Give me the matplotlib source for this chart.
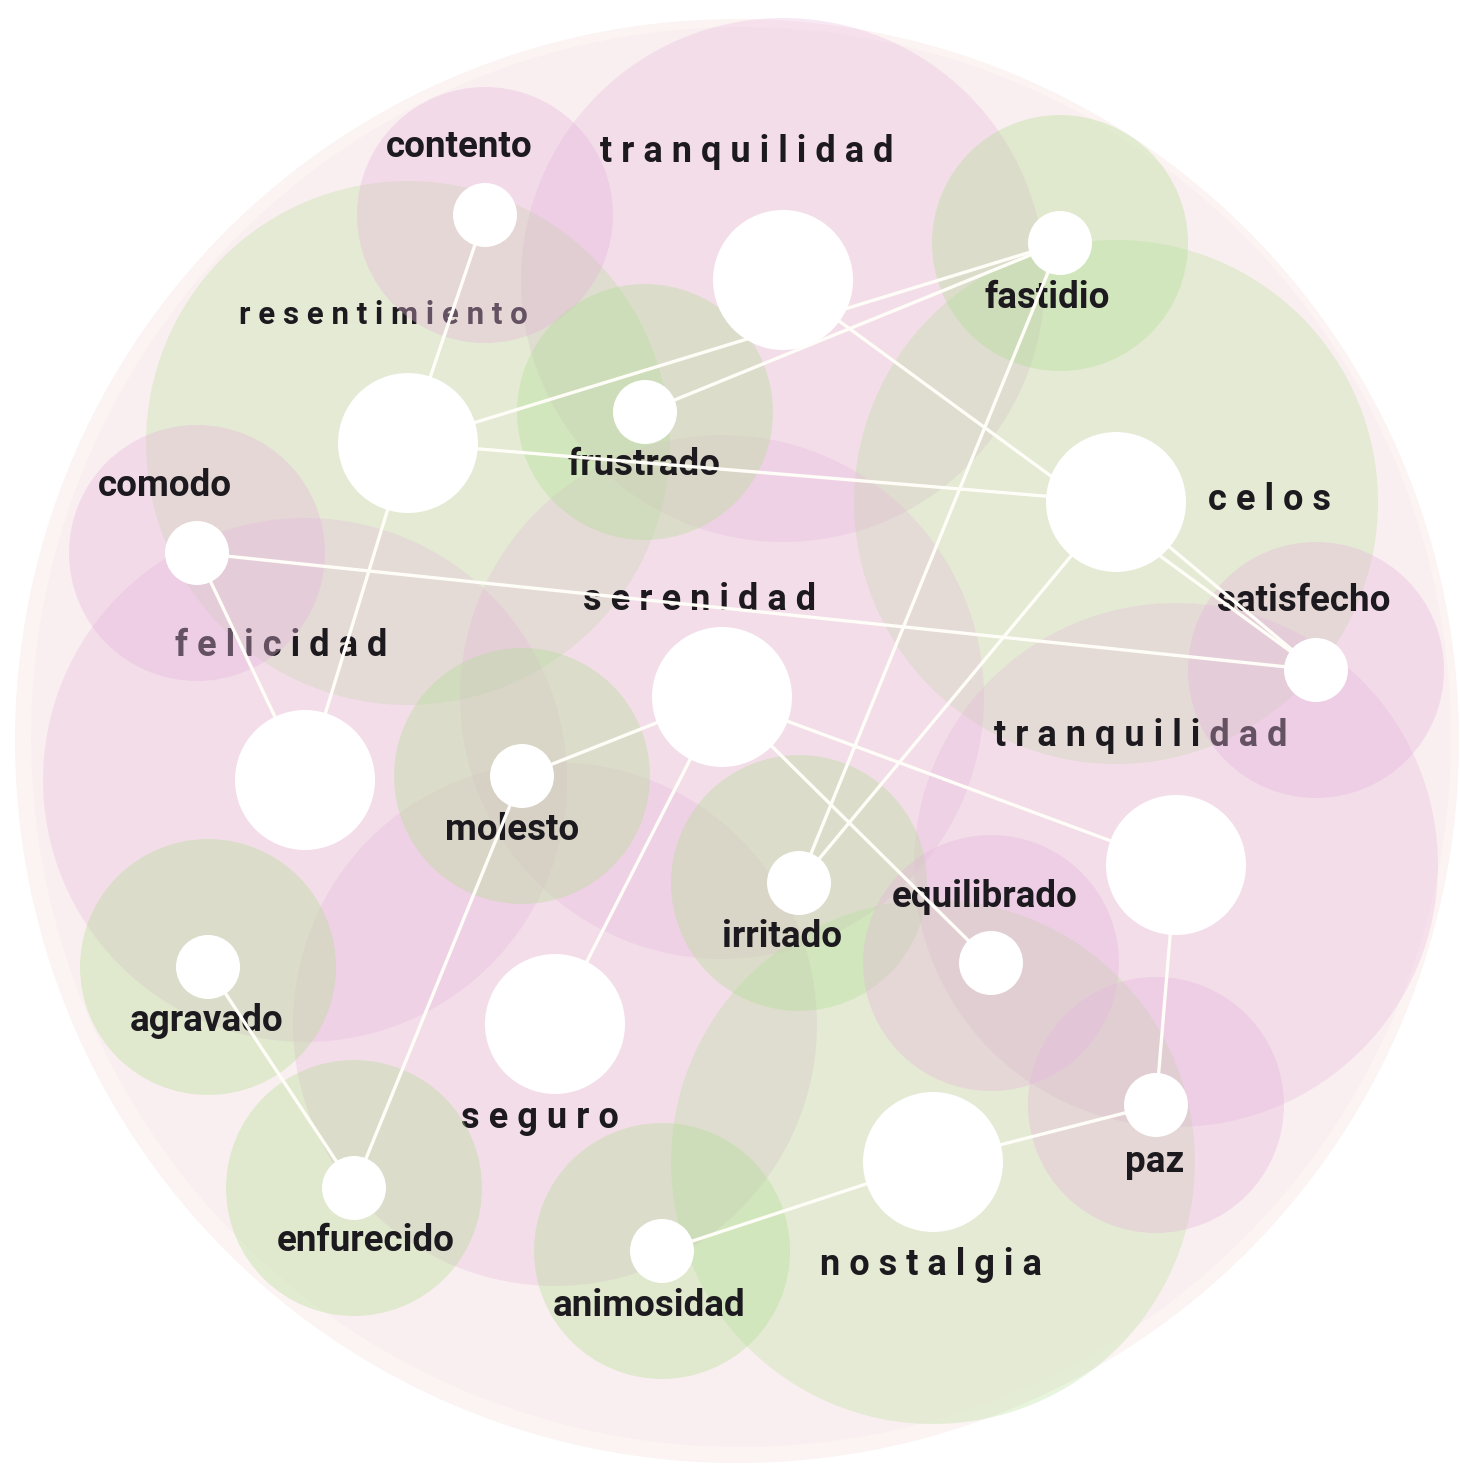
import matplotlib
matplotlib.use("Agg")
import matplotlib.pyplot as plt
from matplotlib.patches import Circle

node_ids = ["tranquilidad_1", "resentimiento", "celos", "serenidad", "felicidad",
            "tranquilidad_2", "seguro", "nostalgia",
            "contento", "fastidio", "frustrado", "comodo", "satisfecho", "molesto",
            "irritado", "equilibrado", "agravado", "paz", "enfurecido", "animosidad"]
node_labels = ["tranquilidad", "resentimiento", "celos", "serenidad", "felicidad",
               "tranquilidad", "seguro", "nostalgia",
               "contento", "fastidio", "frustrado", "comodo", "satisfecho", "molesto",
               "irritado", "equilibrado", "agravado", "paz", "enfurecido", "animosidad"]
node_x = [783, 408, 1116, 722, 305, 1176, 555, 933,
          485, 1060, 645, 197, 1316, 522, 799, 991, 208, 1156, 354, 662]
node_y = [280, 443, 502, 697, 780, 865, 1024, 1162,
          215, 243, 412, 553, 670, 776, 883, 963, 967, 1105, 1188, 1251]
node_group = ["major"] * 8 + ["minor"] * 12
node_tone = ["pink", "green", "green", "pink", "pink", "pink", "pink", "green",
             "pink", "green", "green", "pink", "pink", "green", "green", "pink",
             "green", "pink", "green", "green"]

edges = [
    ("contento", "resentimiento"),
    ("resentimiento", "felicidad"),
    ("resentimiento", "fastidio"),
    ("frustrado", "fastidio"),
    ("resentimiento", "celos"),
    ("tranquilidad_1", "satisfecho"),
    ("celos", "satisfecho"),
    ("celos", "irritado"),
    ("fastidio", "irritado"),
    ("comodo", "felicidad"),
    ("comodo", "satisfecho"),
    ("serenidad", "molesto"),
    ("serenidad", "seguro"),
    ("serenidad", "equilibrado"),
    ("serenidad", "tranquilidad_2"),
    ("molesto", "enfurecido"),
    ("agravado", "enfurecido"),
    ("tranquilidad_2", "paz"),
    ("paz", "nostalgia"),
    ("nostalgia", "animosidad"),
]

# label offsets from node centre
label_dx = [-36, -25, 154, -22, -24, -35, -15, -2,
            -26, -13, -1, -32, -12, -10, -17, -6, -1, -1, 12, -13]
label_dy = [-128, -128, -2, -97, -134, -129, 94, 103,
            -68, 55, 53, -67, -69, 54, 54, -66, 54, 57, 53, 55]

# ---- styling ----
W, H = 1460, 1473
tone_rgb = {"pink": "#e6b6dc", "green": "#b2df94"}
big_alpha, halo_alpha = 0.3, 0.36
R_CLUSTER, R_HALO = 262, 128
R_NODE = {"major": 70, "minor": 32}
FONT = ["Roboto", "DejaVu Sans"]
ink = "#1c1a1e"
major_size = {"resentimiento": 22.5}

fig = plt.figure(figsize=(W / 100, H / 100), dpi=100)
ax = fig.add_axes([0, 0, 1, 1])
ax.set_xlim(0, W)
ax.set_ylim(H, 0)
ax.set_aspect("equal")
ax.axis("off")

idx = {n: i for i, n in enumerate(node_ids)}

# outer disc
ax.add_patch(Circle((737, 741), 722, facecolor="#fcf3f3", edgecolor="none", zorder=0))
ax.add_patch(Circle((741, 737), 710, facecolor="#f8e6e8", edgecolor="none", alpha=0.25, zorder=0.5))

# clusters around the major nodes
for i in range(len(node_ids)):
    if node_group[i] == "major":
        ax.add_patch(Circle((node_x[i], node_y[i]), R_CLUSTER, facecolor=tone_rgb[node_tone[i]],
                            alpha=big_alpha, edgecolor="none", zorder=1))

# spaced labels of the major nodes
for i in range(len(node_ids)):
    if node_group[i] == "major":
        ax.text(node_x[i] + label_dx[i], node_y[i] + label_dy[i], " ".join(node_labels[i]),
                ha="center", va="center", fontsize=major_size.get(node_ids[i], 26),
                fontweight="bold", family=FONT, color=ink, zorder=2)

# halos around the minor nodes
for i in range(len(node_ids)):
    if node_group[i] == "minor":
        ax.add_patch(Circle((node_x[i], node_y[i]), R_HALO, facecolor=tone_rgb[node_tone[i]],
                            alpha=halo_alpha, edgecolor="none", zorder=3))

# labels of the minor nodes
for i in range(len(node_ids)):
    if node_group[i] == "minor":
        ax.text(node_x[i] + label_dx[i], node_y[i] + label_dy[i], node_labels[i],
                ha="center", va="center", fontsize=26.5, fontweight="bold", family=FONT,
                color=ink, zorder=4)

# links
for a, b in edges:
    ia, ib = idx[a], idx[b]
    ax.plot([node_x[ia], node_x[ib]], [node_y[ia], node_y[ib]], color="#fffdf8",
            lw=2.4, solid_capstyle="round", zorder=5)

# white nodes
for i in range(len(node_ids)):
    ax.add_patch(Circle((node_x[i], node_y[i]), R_NODE[node_group[i]], facecolor="white",
                        edgecolor="none", zorder=6))

fig.savefig("out.png", dpi=100, facecolor="white")
